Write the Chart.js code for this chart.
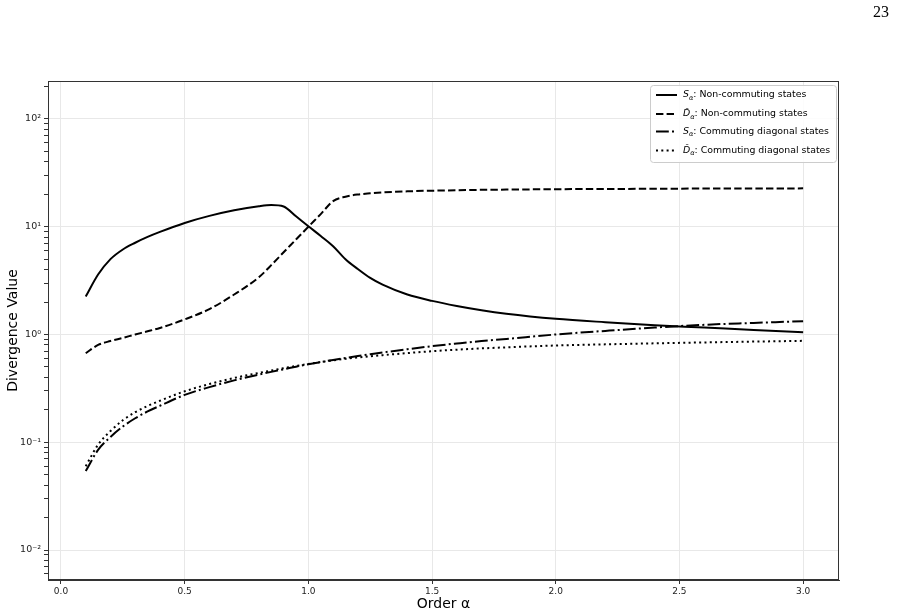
<!DOCTYPE html>
<html lang="en">
<head>
    <meta charset="UTF-8">
    <title>Divergence vs order</title>
    <script src="https://cdn.jsdelivr.net/npm/chart.js"></script>
    <style>
        body {
            margin: 0;
            padding: 0;
            background: #fff;
        }

        #wrap {
            position: relative;
            width: 897px;
            height: 615px;
        }

        #page-num {
            position: absolute;
            left: 873px;
            top: 3px;
            font-family: 'Liberation Serif', serif;
            font-size: 16px;
            color: #000;
        }
    </style>
</head>
<body>
    <div id="wrap">
        <canvas id="myChart" width="897" height="615"></canvas>
        <div id="page-num">23</div>
    </div>
    <script>
        // order alpha (x values)
        const alpha = [0.1, 0.15, 0.2, 0.25, 0.3, 0.35, 0.4, 0.5, 0.6, 0.7, 0.8, 0.85, 0.9, 0.95, 1.0, 1.05,
            1.1, 1.15, 1.2, 1.25, 1.3, 1.4, 1.5, 1.6, 1.7, 1.8, 2.0, 2.2, 2.4, 2.6, 2.8, 3.0];

        // S_alpha, non-commuting states
        const sNonComm = [2.25, 3.6, 5.0, 6.15, 7.1, 8.04, 8.95, 10.84, 12.6, 14.2, 15.5, 15.9, 15.4, 12.5, 10.1, 8.2,
            6.6, 5.0, 4.05, 3.35, 2.9, 2.35, 2.05, 1.84, 1.68, 1.56, 1.40, 1.30, 1.22, 1.16, 1.10, 1.05];

        // D-hat_alpha, non-commuting states
        const dNonComm = [0.67, 0.80, 0.87, 0.93, 1.0, 1.07, 1.15, 1.38, 1.72, 2.35, 3.4, 4.4, 5.8, 7.6, 10.0, 13.1,
            17.3, 19.0, 19.9, 20.4, 20.8, 21.3, 21.6, 21.8, 22.0, 22.1, 22.3, 22.4, 22.5, 22.6, 22.6, 22.7];

        // S_alpha, commuting diagonal states
        const sComm = [0.054, 0.085, 0.112, 0.14, 0.167, 0.193, 0.218, 0.275, 0.325, 0.375, 0.425, 0.45, 0.475, 0.503, 0.53, 0.555,
            0.58, 0.605, 0.63, 0.655, 0.68, 0.73, 0.78, 0.825, 0.87, 0.91, 1.0, 1.08, 1.16, 1.23, 1.28, 1.33];

        // D-hat_alpha, commuting diagonal states
        const dComm = [0.060, 0.095, 0.127, 0.16, 0.19, 0.217, 0.243, 0.297, 0.347, 0.395, 0.44, 0.463, 0.487, 0.51, 0.533, 0.555,
            0.575, 0.595, 0.612, 0.628, 0.643, 0.672, 0.7, 0.723, 0.743, 0.76, 0.79, 0.81, 0.828, 0.844, 0.859, 0.873];

        const xTicks = [0.0, 0.5, 1.0, 1.5, 2.0, 2.5, 3.0];
        const yExponents = [-2, -1, 0, 1, 2];
        const yTickLabels = ['10\u207B\u00B2', '10\u207B\u00B9', '10\u2070', '10\u00B9', '10\u00B2'];

        const legendSymbols = ['S', 'D\u0302', 'S', 'D\u0302'];
        const legendTexts = [': Non-commuting states', ': Non-commuting states',
            ': Commuting diagonal states', ': Commuting diagonal states'];

        const FONT = "'DejaVu Sans', sans-serif";

        function toPoints(values) {
            return alpha.map((a, i) => ({ x: a, y: values[i] }));
        }

        function isMajor(v) {
            const l = Math.log10(v);
            return Math.abs(l - Math.round(l)) < 1e-9;
        }

        // frame + in-axes legend
        const framePlugin = {
            id: 'frame',
            afterDatasetsDraw(chart) {
                const ctx = chart.ctx;
                const a = chart.chartArea;
                ctx.save();
                ctx.strokeStyle = '#333';
                ctx.lineWidth = 1;
                ctx.strokeRect(Math.round(a.left) + 0.5, Math.round(a.top) + 0.5,
                    Math.round(a.right - a.left) - 1, Math.round(a.bottom - a.top) - 1);

                // legend box
                const bx = 650.5, by = 85.5, bw = 186, bh = 77;
                ctx.beginPath();
                ctx.roundRect(bx, by, bw, bh, 3);
                ctx.fillStyle = 'rgba(255,255,255,0.85)';
                ctx.fill();
                ctx.strokeStyle = '#cccccc';
                ctx.stroke();

                const rows = [95, 114, 131.5, 150.5];
                chart.data.datasets.forEach((ds, i) => {
                    const y = rows[i];
                    ctx.beginPath();
                    ctx.setLineDash(ds.borderDash || []);
                    ctx.lineWidth = 2;
                    ctx.lineCap = 'butt';
                    ctx.strokeStyle = '#000';
                    ctx.moveTo(656, y);
                    ctx.lineTo(677, y);
                    ctx.stroke();
                    ctx.setLineDash([]);

                    ctx.fillStyle = '#000';
                    ctx.textBaseline = 'middle';
                    let x = 683;
                    ctx.font = 'italic 9.4px ' + FONT;
                    ctx.fillText(legendSymbols[i], x, y);
                    x += ctx.measureText(legendSymbols[i]).width;
                    ctx.font = 'italic 6.6px ' + FONT;
                    ctx.fillText('\u03B1', x, y + 3);
                    x += ctx.measureText('\u03B1').width;
                    ctx.font = '9.4px ' + FONT;
                    ctx.fillText(legendTexts[i], x, y);
                });
                ctx.restore();
            }
        };

        const ctx = document.getElementById('myChart').getContext('2d');
        const myChart = new Chart(ctx, {
            type: 'line',
            data: {
                datasets: [
                    {
                        label: 'S\u03B1: Non-commuting states',
                        data: toPoints(sNonComm),
                        borderColor: '#000',
                        borderWidth: 2,
                        borderDash: [],
                        order: 4,
                    },
                    {
                        label: 'D\u0302\u03B1: Non-commuting states',
                        data: toPoints(dNonComm),
                        borderColor: '#000',
                        borderWidth: 2,
                        borderDash: [7.4, 3.2],
                        order: 3,
                    },
                    {
                        label: 'S\u03B1: Commuting diagonal states',
                        data: toPoints(sComm),
                        borderColor: '#000',
                        borderWidth: 2,
                        borderDash: [12.8, 3.2, 2, 3.2],
                        order: 2,
                    },
                    {
                        label: 'D\u0302\u03B1: Commuting diagonal states',
                        data: toPoints(dComm),
                        borderColor: '#000',
                        borderWidth: 2,
                        borderDash: [2, 3.3],
                        order: 1,
                    },
                ],
            },
            options: {
                responsive: false,
                animation: false,
                layout: {
                    padding: { top: 81, right: 58, left: 0, bottom: 0 },
                },
                elements: {
                    point: { radius: 0 },
                    line: {
                        cubicInterpolationMode: 'monotone',
                        borderCapStyle: 'butt',
                        borderJoinStyle: 'round',
                        fill: false,
                    },
                },
                plugins: {
                    legend: { display: false },
                    tooltip: { enabled: false },
                },
                scales: {
                    x: {
                        type: 'linear',
                        min: -0.0525,
                        max: 3.145,
                        afterBuildTicks: (scale) => {
                            scale.ticks = xTicks.map(v => ({ value: v }));
                        },
                        afterFit: (scale) => {
                            scale.height = 35;
                        },
                        ticks: {
                            autoSkip: false,
                            maxRotation: 0,
                            padding: 2,
                            color: '#222',
                            font: { family: FONT, size: 9 },
                            callback: (v) => Number(v).toFixed(1),
                        },
                        grid: {
                            color: '#e8e8e8',
                            tickColor: '#333',
                            tickLength: 4,
                        },
                        border: { display: true, color: '#333' },
                        title: {
                            display: true,
                            text: 'Order \u03B1',
                            color: '#000',
                            font: { family: FONT, size: 14 },
                            padding: { top: 0, bottom: 2 },
                        },
                    },
                    y: {
                        type: 'logarithmic',
                        min: 0.00527,
                        max: 225,
                        afterBuildTicks: (scale) => {
                            const t = [];
                            for (let e = -3; e <= 2; e++) {
                                for (let m = 1; m <= 9; m++) {
                                    const v = m * Math.pow(10, e);
                                    if (v >= 0.00527 && v <= 225) t.push({ value: v });
                                }
                            }
                            scale.ticks = t;
                        },
                        afterFit: (scale) => {
                            scale.width = 48;
                        },
                        ticks: {
                            autoSkip: false,
                            padding: 3,
                            color: '#222',
                            font: { family: FONT, size: 9.5 },
                            callback: (v) => {
                                if (!isMajor(v)) return '';
                                const e = Math.round(Math.log10(v));
                                return yTickLabels[yExponents.indexOf(e)];
                            },
                        },
                        grid: {
                            color: (c) => (c.tick && isMajor(c.tick.value)) ? '#e8e8e8' : 'rgba(0,0,0,0)',
                            tickColor: '#333',
                            tickLength: 4,
                        },
                        border: { display: true, color: '#333' },
                        title: {
                            display: true,
                            text: 'Divergence Value',
                            color: '#000',
                            font: { family: FONT, size: 14 },
                            padding: { top: 5, bottom: 0 },
                        },
                    },
                },
            },
            plugins: [framePlugin],
        });
    </script>
</body>
</html>
